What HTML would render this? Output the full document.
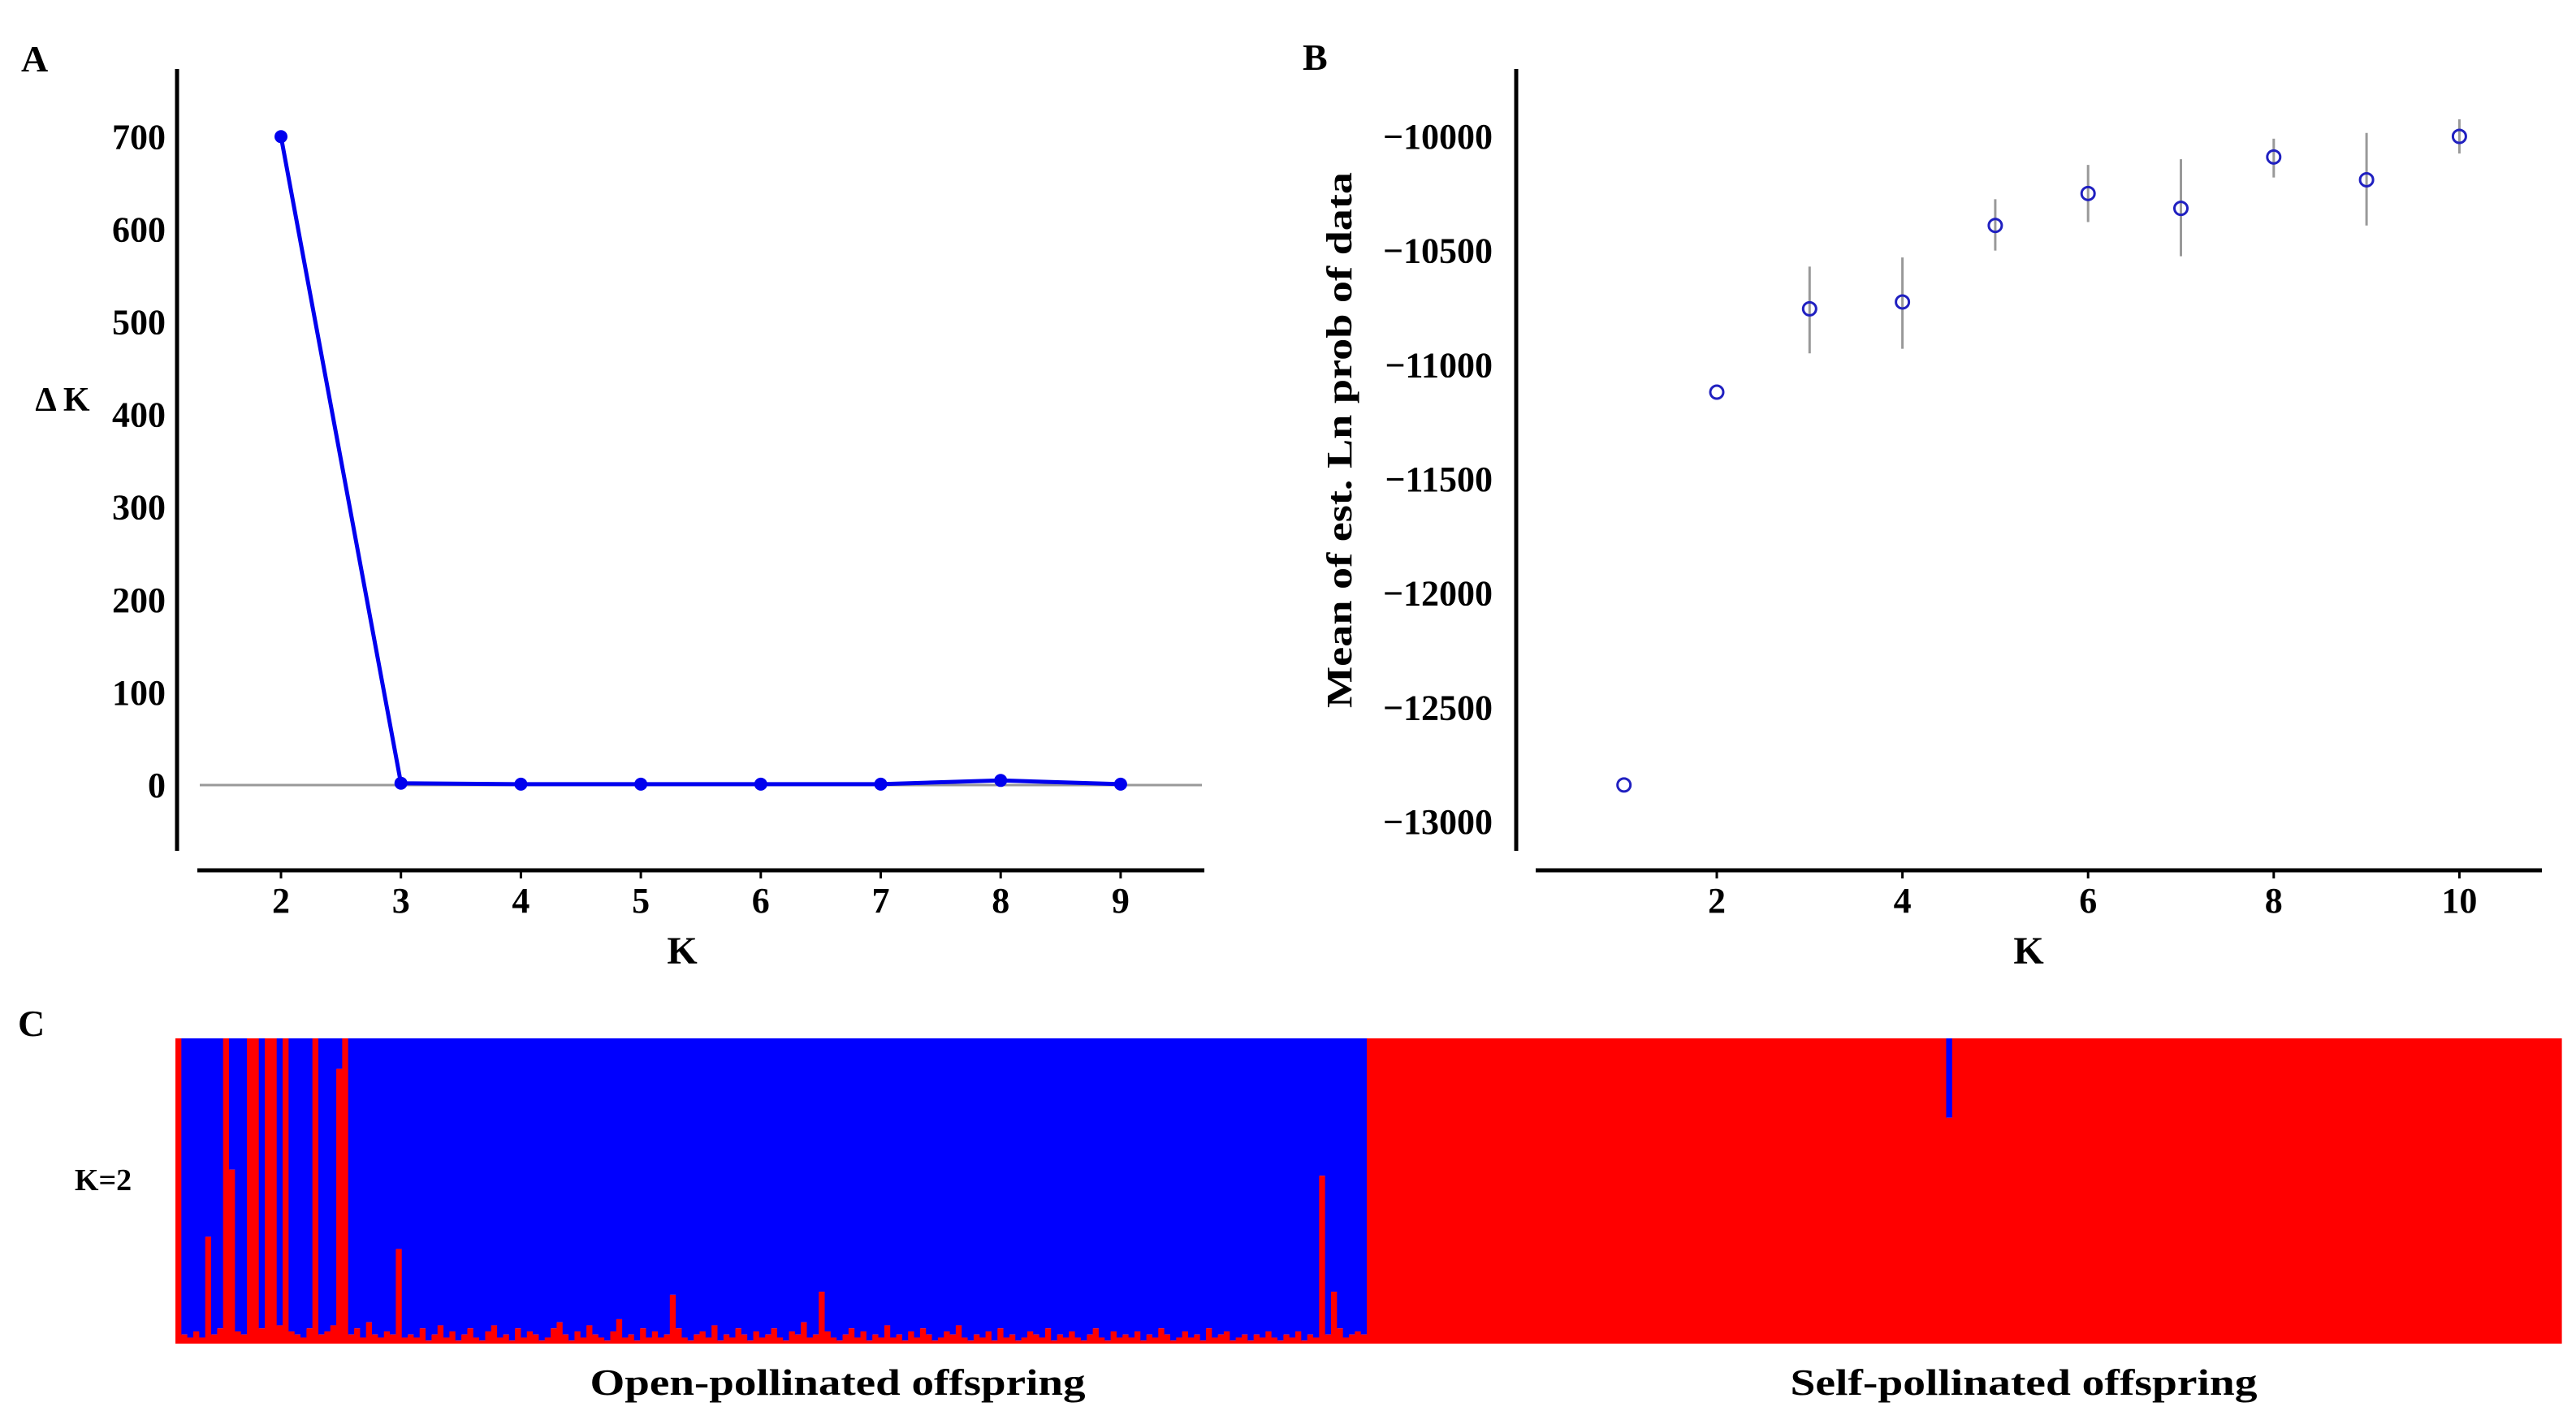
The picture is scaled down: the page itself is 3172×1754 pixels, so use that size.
<!DOCTYPE html>
<html><head><meta charset="utf-8"><style>
html,body{margin:0;padding:0;background:#fff}
svg{display:block;font-family:"Liberation Serif",serif;font-weight:bold}
</style></head><body>
<svg id="fig" width="3172" height="1754" viewBox="0 0 3172 1754">
<g id="pa"></g>
<g id="pb"></g>
<g id="pc"></g>
</svg>
<script>
// Panel A data
const aK = [2,3,4,5,6,7,8,9];
const aDeltaK = [700,2,1,1,1,1,5,1];
const aYTicks = [0,100,200,300,400,500,600,700];
const aXTicks = [2,3,4,5,6,7,8,9];
// Panel B data
const bK = [1,2,3,4,5,6,7,8,9,10];
const bMean = [-12840,-11120,-10755,-10725,-10390,-10250,-10315,-10090,-10190,-10000];
const bLow = [-12840,-11120,-10950,-10930,-10500,-10375,-10525,-10180,-10390,-10075];
const bHigh = [-12840,-11120,-10570,-10530,-10275,-10125,-10100,-10010,-9985,-9925];
const bYTicks = [-13000,-12500,-12000,-11500,-11000,-10500,-10000];
const bXTicks = [2,4,6,8,10];
// Panel C data: red (cluster) fraction per individual
const cOpenRed = [
1,.03,.02,.04,.02,.35,.03,.05,1,.57,.04,.03,1,1,.05,1,1,.06,1,.04,
.03,.02,.05,1,.03,.04,.06,.9,1,.03,.05,.02,.07,.03,.02,.04,.03,.31,.02,.03,
.02,.05,.01,.03,.06,.02,.04,.01,.03,.05,.02,.01,.04,.06,.02,.03,.01,.05,.02,.04,
.03,.01,.02,.05,.07,.03,.01,.04,.02,.06,.03,.02,.01,.04,.08,.02,.03,.01,.05,.02,
.04,.02,.03,.16,.05,.02,.01,.03,.04,.02,.06,.01,.03,.02,.05,.03,.01,.04,.02,.03,
.05,.02,.01,.04,.03,.07,.02,.03,.17,.04,.02,.01,.03,.05,.02,.04,.01,.03,.02,.06,
.02,.03,.01,.04,.02,.05,.03,.01,.02,.04,.03,.06,.02,.01,.03,.02,.04,.01,.05,.02,
.03,.01,.02,.04,.03,.02,.05,.01,.03,.02,.04,.02,.01,.03,.05,.02,.01,.04,.02,.03,
.02,.04,.01,.03,.02,.05,.03,.01,.02,.04,.02,.03,.01,.05,.02,.03,.04,.01,.02,.03,
.01,.03,.02,.04,.02,.01,.03,.02,.04,.01,.03,.02,.55,.03,.17,.05,.02,.03,.04,.03];
const cSelfRed = [
1,1,1,1,1,1,1,1,1,1,1,1,1,1,1,1,1,1,1,1,
1,1,1,1,1,1,1,1,1,1,1,1,1,1,1,1,1,1,1,1,
1,1,1,1,1,1,1,1,1,1,1,1,1,1,1,1,1,1,1,1,
1,1,1,1,1,1,1,1,1,1,1,1,1,1,1,1,1,1,1,1,
1,1,1,1,1,1,1,1,1,1,1,1,1,1,1,1,1,.74,1,1,
1,1,1,1,1,1,1,1,1,1,1,1,1,1,1,1,1,1,1,1,
1,1,1,1,1,1,1,1,1,1,1,1,1,1,1,1,1,1,1,1,
1,1,1,1,1,1,1,1,1,1,1,1,1,1,1,1,1,1,1,1,
1,1,1,1,1,1,1,1,1,1,1,1,1,1,1,1,1,1,1,1,
1,1,1,1,1,1,1,1,1,1,1,1,1,1,1,1,1,1,1,1];
const cGroups = ["Open-pollinated offspring","Self-pollinated offspring"];

const NS="http://www.w3.org/2000/svg";
function mk(parent,tag,attrs,text){const e=document.createElementNS(NS,tag);for(const k in attrs)e.setAttribute(k,attrs[k]);if(text!==undefined)e.textContent=text;parent.appendChild(e);return e;}

// ---- Panel A ----
const pa=document.getElementById('pa');
const ax=k=>346+(k-2)*147.7;
const ay=v=>967-v*1.141;
let t=mk(pa,'text',{x:26,y:88,'font-size':46});t.textContent='A';


let l=mk(pa,'line',{x1:218,y1:85,x2:218,y2:1048,stroke:'#000','stroke-width':5});


l=mk(pa,'line',{x1:243,y1:1072,x2:1483,y2:1072,stroke:'#000','stroke-width':5});


aYTicks.forEach(v=>{const e=mk(pa,'text',{x:204,y:ay(v)+15,'font-size':44,'text-anchor':'end'},String(v));

});
aXTicks.forEach(k=>{mk(pa,'line',{x1:ax(k),y1:1072,x2:ax(k),y2:1082,stroke:'#000','stroke-width':3});
const e=mk(pa,'text',{x:ax(k),y:1124,'font-size':44,'text-anchor':'middle'},String(k));

});
t=mk(pa,'text',{x:840,y:1187,'font-size':48,'text-anchor':'middle'},'K');


t=mk(pa,'text',{x:77,y:506,'font-size':42,'text-anchor':'middle'},'Δ K');


l=mk(pa,'line',{x1:246,y1:ay(0),x2:1480,y2:ay(0),stroke:'#999','stroke-width':3});


const pts=aK.map((k,i)=>ax(k)+','+ay(aDeltaK[i])).join(' ');
l=mk(pa,'polyline',{points:pts,fill:'none',stroke:'#0000ee','stroke-width':5});


aK.forEach((k,i)=>{const c=mk(pa,'circle',{cx:ax(k),cy:ay(aDeltaK[i]),r:8,fill:'#0000ee'});

});

// ---- Panel B ----
const pb=document.getElementById('pb');
const bx=k=>2114+(k-2)*114.3;
const by=v=>168+(-10000-v)*0.2813;
t=mk(pb,'text',{x:1604,y:86,'font-size':46},'B');


l=mk(pb,'line',{x1:1867,y1:85,x2:1867,y2:1048,stroke:'#000','stroke-width':5});


l=mk(pb,'line',{x1:1891,y1:1072,x2:3130,y2:1072,stroke:'#000','stroke-width':5});


bYTicks.forEach(v=>{const e=mk(pb,'text',{x:1838,y:by(v)+15,'font-size':44,'text-anchor':'end'},'\u2212'+Math.abs(v));

});
bXTicks.forEach(k=>{mk(pb,'line',{x1:bx(k),y1:1072,x2:bx(k),y2:1082,stroke:'#000','stroke-width':3});
const e=mk(pb,'text',{x:bx(k),y:1124,'font-size':44,'text-anchor':'middle'},String(k));

});
t=mk(pb,'text',{x:2498,y:1187,'font-size':48,'text-anchor':'middle'},'K');


t=mk(pb,'text',{x:0,y:0,'font-size':44,'text-anchor':'middle',transform:'translate(1664,542) rotate(-90)',textLength:660,lengthAdjust:'spacingAndGlyphs'},'Mean of est. Ln prob of data');


bK.forEach((k,i)=>{
 const e=mk(pb,'line',{x1:bx(k),y1:by(bLow[i]),x2:bx(k),y2:by(bHigh[i]),stroke:'#999','stroke-width':3});
 
 
 const c=mk(pb,'circle',{cx:bx(k),cy:by(bMean[i]),r:8,fill:'none',stroke:'#2020c0','stroke-width':3});
 
 
});

// ---- Panel C ----
const pc=document.getElementById('pc');
t=mk(pc,'text',{x:22,y:1276,'font-size':46},'C');


t=mk(pc,'text',{x:127,y:1466,'font-size':38,'text-anchor':'middle'},'K=2');


const cTop=1279,cBot=1655,cH=cBot-cTop,cL=216,cMid=1683,cR=3154;
function drawGroup(arr,x0,x1,name){
 const w=(x1-x0)/arr.length;
 arr.forEach((q,i)=>{
  const x=x0+i*w, rh=q*cH;
  const b=mk(pc,'rect',{x:x,y:cTop,width:w+0.6,height:cH-rh,fill:'#0000ff'});
  
  
  const r=mk(pc,'rect',{x:x,y:cBot-rh,width:w+0.6,height:rh,fill:'#ff0000'});
  
  
 });
}
drawGroup(cOpenRed,cL,cMid,'open');
drawGroup(cSelfRed,cMid,cR,'self');
t=mk(pc,'text',{x:(cL+cMid)/2+82,y:1718,'font-size':46,'text-anchor':'middle',textLength:610,lengthAdjust:'spacingAndGlyphs'},cGroups[0]);


t=mk(pc,'text',{x:2492,y:1718,'font-size':46,'text-anchor':'middle',textLength:575,lengthAdjust:'spacingAndGlyphs'},cGroups[1]);


</script>
</body></html>
